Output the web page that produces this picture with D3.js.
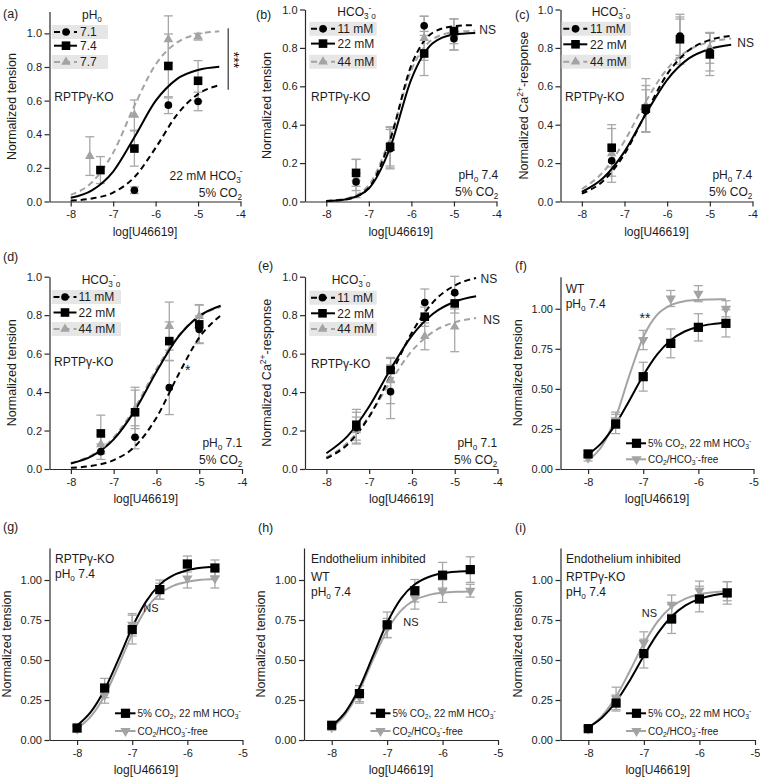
<!DOCTYPE html>
<html><head><meta charset="utf-8">
<script src="https://cdn.jsdelivr.net/npm/d3@7"></script>
<style>
body{margin:0;background:#fff}
text{font-family:"Liberation Sans",Arial,Helvetica,sans-serif}
</style>
</head><body>
<svg id="c" width="760" height="780"></svg>
<script>
// ---------------- DATA ----------------
const xTicksTop = [-8, -7, -6, -5, -4];
const xTicksBottom = [-8, -7, -6, -5];
const yTicksTop = [0, 0.2, 0.4, 0.6, 0.8, 1.0];
const yTicksBottom = [0, 0.25, 0.5, 0.75, 1.0];

const conc4 = [-7.3, -6.5, -5.7, -5.0];
const concA77 = [-7.55, -6.5, -5.7, -5.0];
const concA71 = [-6.5, -5.7, -5.0];
const conc6 = [-8, -7.5, -7, -6.5, -6, -5.5];
const fitX8 = [-8, -7.5, -7, -6.5, -6, -5.5, -5, -4.5];
const fitX11 = [-8, -7.75, -7.5, -7.25, -7, -6.75, -6.5, -6.25, -6, -5.75, -5.5];

// (a) pHo 7.1 / 7.4 / 7.7
const a71 = [0.067, 0.573, 0.595], a71Err = [0.02, 0.05, 0.055];
const a74 = [0.187, 0.315, 0.806, 0.718], a74Err = [0.08, 0.105, 0.19, 0.12];
const a77 = [0.27, 0.514, 0.964, 0.98], a77Err = [0.115, 0.09, 0.14, 0.02];
const fitA71 = [0.006, 0.018, 0.053, 0.145, 0.319, 0.515, 0.639, 0.692];
const fitA74 = [0.022, 0.066, 0.178, 0.382, 0.598, 0.728, 0.782, 0.801];
const fitA77 = [0.039, 0.114, 0.290, 0.569, 0.815, 0.945, 0.995, 1.012];
// (b) HCO3 11 / 22 / 44 mM, pHo 7.4, tension
const b11 = [0.102, 0.275, 0.915, 0.848], b11Err = [0.045, 0.1, 0.05, 0.06];
const b22 = [0.149, 0.285, 0.771, 0.887], b22Err = [0.07, 0.1, 0.115, 0.065];
const b44 = [0.12, 0.28, 0.85, 0.87], b44Err = [0.1, 0.11, 0.115, 0.08];
const fitB11 = [0.002, 0.012, 0.072, 0.321, 0.710, 0.879, 0.913, 0.919];
const fitB22 = [0.002, 0.013, 0.068, 0.280, 0.638, 0.824, 0.870, 0.878];
const fitB44 = [0.003, 0.017, 0.085, 0.332, 0.685, 0.845, 0.882, 0.889];
// (c) Ca response, pHo 7.4
const c11 = [0.212, 0.472, 0.861, 0.78], c11Err = [0.08, 0.11, 0.1, 0.1];
const c22 = [0.28, 0.484, 0.845, 0.766], c22Err = [0.1, 0.12, 0.13, 0.11];
const c44 = [0.25, 0.5, 0.85, 0.8], c44Err = [0.15, 0.14, 0.1, 0.08];
const fitC11 = [0.041, 0.107, 0.247, 0.460, 0.663, 0.786, 0.841, 0.863];
const fitC22 = [0.050, 0.122, 0.260, 0.456, 0.634, 0.744, 0.795, 0.817];
const fitC44 = [0.065, 0.154, 0.315, 0.521, 0.691, 0.788, 0.831, 0.849];
// (d) tension, pHo 7.1
const d11 = [0.09, 0.165, 0.423, 0.726], d11Err = [0.04, 0.06, 0.14, 0.07];
const d22 = [0.185, 0.295, 0.665, 0.752], d22Err = [0.095, 0.13, 0.1, 0.1];
const d44 = [0.128, 0.31, 0.743, 0.795], d44Err = [0.05, 0.1, 0.125, 0.06];
const fitD11 = [0.006, 0.017, 0.046, 0.118, 0.267, 0.485, 0.683, 0.798];
const fitD22 = [0.029, 0.068, 0.154, 0.306, 0.506, 0.684, 0.795, 0.849];
const fitD44 = [0.031, 0.074, 0.164, 0.321, 0.520, 0.690, 0.793, 0.843];
// (e) Ca response, pHo 7.1
const e11 = [0.215, 0.402, 0.866, 0.917], e11Err = [0.08, 0.14, 0.07, 0.085];
const e22 = [0.23, 0.515, 0.792, 0.861], e22Err = [0.08, 0.06, 0.05, 0.05];
const e44 = [0.2, 0.46, 0.69, 0.74], e44Err = [0.07, 0.12, 0.07, 0.13];
const fitE11 = [0.056, 0.129, 0.272, 0.487, 0.710, 0.869, 0.954, 0.993];
const fitE22 = [0.082, 0.172, 0.325, 0.519, 0.694, 0.809, 0.870, 0.898];
const fitE44 = [0.061, 0.138, 0.275, 0.455, 0.614, 0.714, 0.763, 0.785];
// (f) WT
const f22 = [0.094, 0.281, 0.576, 0.784, 0.884, 0.909], f22Err = [0.02, 0.06, 0.09, 0.09, 0.085, 0.085];
const fFree = [0.07, 0.305, 0.805, 1.064, 1.094, 1.0], fFreeErr = [0.02, 0.05, 0.06, 0.05, 0.05, 0.05];
const fitF22 = [0.091, 0.165, 0.280, 0.428, 0.584, 0.714, 0.804, 0.858, 0.888, 0.904, 0.912];
const fitFFree = [0.055, 0.142, 0.322, 0.585, 0.823, 0.962, 1.023, 1.047, 1.055, 1.058, 1.060];
// (g) RPTPg-KO
const g22 = [0.075, 0.325, 0.69, 0.94, 1.10, 1.075], g22Err = [0.02, 0.06, 0.09, 0.06, 0.05, 0.05];
const gFree = [0.07, 0.28, 0.72, 0.93, 1.01, 1.01], gFreeErr = [0.02, 0.05, 0.07, 0.05, 0.06, 0.06];
const fitG22 = [0.091, 0.176, 0.316, 0.504, 0.704, 0.865, 0.971, 1.030, 1.061, 1.076, 1.083];
const fitGFree = [0.071, 0.147, 0.278, 0.464, 0.662, 0.818, 0.914, 0.965, 0.989, 1.001, 1.006];
// (h) endothelium inhibited WT
const h22 = [0.092, 0.29, 0.72, 0.933, 1.03, 1.065], h22Err = [0.02, 0.05, 0.08, 0.07, 0.08, 0.08];
const hFree = [0.08, 0.27, 0.70, 0.888, 0.93, 0.933], hFreeErr = [0.02, 0.04, 0.06, 0.07, 0.07, 0.04];
const fitH22 = [0.087, 0.176, 0.327, 0.530, 0.733, 0.884, 0.973, 1.019, 1.042, 1.052, 1.056];
const fitHFree = [0.076, 0.162, 0.311, 0.505, 0.686, 0.809, 0.875, 0.906, 0.920, 0.926, 0.928];
// (i) endothelium inhibited RPTPg-KO
const i22 = [0.071, 0.231, 0.54, 0.756, 0.881, 0.919], i22Err = [0.01, 0.05, 0.09, 0.09, 0.08, 0.07];
const iFree = [0.07, 0.26, 0.606, 0.846, 0.933, 0.93], iFreeErr = [0.01, 0.07, 0.07, 0.06, 0.06, 0.06];
const fitI22 = [0.079, 0.141, 0.239, 0.374, 0.526, 0.666, 0.772, 0.841, 0.882, 0.905, 0.917];
const fitIFree = [0.078, 0.151, 0.271, 0.433, 0.603, 0.742, 0.833, 0.884, 0.910, 0.923, 0.929];

// ---------------- STYLE ----------------
const GRAY = '#a3a3a3';
const ERR = '#a8a8a8';
const TXT = '#1c1c1c';
const styles = {
  bkDashCirc: {color: '#000', dash: '6,4', marker: 'circle'},
  bkSolidSq: {color: '#000', dash: null, marker: 'square'},
  grDashTri: {color: GRAY, dash: '6,4', marker: 'triangle'},
  grSolidDown: {color: GRAY, dash: null, marker: 'down'}
};

const svg = d3.select('#c');

function rich(t, parts, fs) {
  let cur = 0;
  parts.forEach(p => {
    const [s, k, dx] = p;
    const target = k === 'sub' ? 0.25 * fs : k === 'sup' ? -0.42 * fs : 0;
    const ts = t.append('tspan').attr('dy', (target - cur).toFixed(2)).text(s);
    if (k) ts.attr('font-size', (fs * 0.68).toFixed(1));
    if (dx) ts.attr('dx', dx);
    cur = target;
  });
}
function label(x, y, parts, fs = 12, anchor = 'start', color = TXT) {
  const t = svg.append('text').attr('x', x).attr('y', y).attr('font-size', fs)
    .attr('text-anchor', anchor).attr('fill', color);
  if (typeof parts === 'string') t.text(parts); else rich(t, parts, fs);
  return t;
}
function markerPath(type, big) {
  const k = big ? 1.15 : 1;
  if (type === 'circle') return d3.symbol(d3.symbolCircle, 46 * k)();
  if (type === 'square') return d3.symbol(d3.symbolSquare, 74 * k)();
  return d3.symbol(d3.symbolTriangle, 40 * k)();
}
function drawMarker(g, type, cx, cy, color, big) {
  g.append('path').attr('d', markerPath(type, big))
    .attr('transform', `translate(${cx},${cy})` + (type === 'down' ? ' rotate(180)' : ''))
    .attr('fill', color);
}

const HCO3o = [['HCO', ''], ['3', 'sub'], ['-', 'sup'], ['o', 'sub']];
const tensionTitle = [['Normalized tension', '']];
const caTitle = [['Normalized Ca', ''], ['2+', 'sup'], ['-response', '']];
const lgBottom1 = [['5% CO', ''], ['2', 'sub'], [', 22 mM HCO', ''], ['3', 'sub'], ['-', 'sup']];
const lgBottom2 = [['CO', ''], ['2', 'sub'], ['/HCO', ''], ['3', 'sub'], ['-', 'sup'], ['-free', '']];

function drawPanel(p) {
  const x = d3.scaleLinear().domain(p.xDomain).range([p.left, p.right]);
  const y = d3.scaleLinear().domain(p.yDomain).range([p.bottom, p.top]);
  const g = svg.append('g');
  const ax = g.append('g').attr('transform', `translate(0,${p.bottom})`)
    .call(d3.axisBottom(x).tickValues(p.xTicks).tickFormat(d => String(d))
      .tickSize(5).tickPadding(4).tickSizeOuter(0));
  const ay = g.append('g').attr('transform', `translate(${p.left},0)`)
    .call(d3.axisLeft(y).tickValues(p.yTicks).tickFormat(d3.format(p.yFmt))
      .tickSize(5).tickPadding(2.5).tickSizeOuter(0));
  [ax, ay].forEach(a => {
    a.selectAll('text').attr('font-size', 11).attr('fill', TXT)
      .attr('font-family', '"Liberation Sans",Arial,sans-serif');
    a.selectAll('path,line').attr('stroke', '#2a2a2a').attr('stroke-width', 1.2);
  });
  // axis titles
  label((p.left + p.right) / 2, p.bottom + 34, 'log[U46619]', 12, 'middle');
  const yt = svg.append('text').attr('font-size', 12.5).attr('text-anchor', 'middle').attr('fill', TXT)
    .attr('transform', `translate(${p.left - p.yTitleOff},${(p.top + p.bottom) / 2}) rotate(-90)`)
    .attr('dy', '0.35em');
  rich(yt, p.yTitle, 12.5);
  label(p.labelPos[0], p.labelPos[1], p.label, 12.5);

  // legend backgrounds
  if (p.legend && p.legend.type === 'top') {
    const L = p.legend;
    L.rows.forEach(r => {
      if (r.shaded) g.append('rect').attr('x', L.box[0]).attr('width', L.box[1] - L.box[0])
        .attr('y', r.y - 7).attr('height', 14).attr('fill', '#e6e6e6');
    });
  }
  const big = p.bigMarkers;
  // error bars
  p.series.forEach(s => {
    s.x.forEach((xv, i) => {
      const e = s.err[i];
      const y1 = y(Math.max(0, s.y[i] - e)), y2 = y(s.y[i] + e), cx = x(xv);
      g.append('line').attr('x1', cx).attr('x2', cx).attr('y1', y1).attr('y2', y2)
        .attr('stroke', ERR).attr('stroke-width', 1.3);
      [y1, y2].forEach(yy => g.append('line').attr('x1', cx - 4.5).attr('x2', cx + 4.5)
        .attr('y1', yy).attr('y2', yy).attr('stroke', ERR).attr('stroke-width', 1.3));
    });
  });
  // fit curves
  const line = d3.line().x(d => x(d[0])).y(d => y(d[1])).curve(d3.curveMonotoneX);
  p.curveOrder.forEach(k => {
    const s = p.series[k], st = styles[s.style];
    g.append('path').attr('d', line(d3.zip(s.fitX, s.fit))).attr('fill', 'none')
      .attr('stroke', st.color).attr('stroke-width', 2)
      .attr('stroke-dasharray', st.dash);
  });
  // markers
  p.markerOrder.forEach(k => {
    const s = p.series[k], st = styles[s.style];
    s.x.forEach((xv, i) => drawMarker(g, st.marker, x(xv), y(s.y[i]), st.color, big));
  });

  // legend
  if (p.legend) {
    const L = p.legend;
    if (L.type === 'top') {
      label(L.titleX, L.titleY, L.title, 12);
      L.rows.forEach(r => {
        const st = styles[r.style];
        g.append('line').attr('x1', L.line[0]).attr('x2', L.line[1]).attr('y1', r.y).attr('y2', r.y)
          .attr('stroke', st.color).attr('stroke-width', 2).attr('stroke-dasharray', st.dash);
        drawMarker(g, st.marker, L.marker, r.y, st.color, false);
        label(L.text, r.y + 4.3, r.label, 12);
      });
    } else {
      L.rows.forEach(r => {
        const st = styles[r.style];
        g.append('line').attr('x1', L.line[0]).attr('x2', L.line[1]).attr('y1', r.y).attr('y2', r.y)
          .attr('stroke', st.color).attr('stroke-width', 2);
        drawMarker(g, st.marker, L.marker, r.y, st.color, true);
        label(L.text, r.y + 3.5, r.label, 10);
      });
    }
  }
  return {x, y, g};
}

function ser(xs, ys, err, fit, fitX, style) { return {x: xs, y: ys, err, fit, fitX, style}; }

const topLegendRows = (y1, y2, y3, l1, l2, l3) => [
  {y: y1, label: l1, style: 'bkDashCirc', shaded: true},
  {y: y2, label: l2, style: 'bkSolidSq'},
  {y: y3, label: l3, style: 'grDashTri', shaded: true}];
const bottomLegend = (ln, mk, tx, y1, y2) => ({type: 'bottom', line: ln, marker: mk, text: tx,
  rows: [{y: y1, label: lgBottom1, style: 'bkSolidSq'}, {y: y2, label: lgBottom2, style: 'grSolidDown'}]});

const topCommon = {xDomain: [-8.5, -4], xTicks: xTicksTop, yFmt: '.1f', yTicks: yTicksTop,
  curveOrder: [2, 1, 0], markerOrder: [2, 0, 1], yTitleOff: 34};
const botCommon = {xDomain: [-8.5, -5], xTicks: xTicksBottom, yFmt: '.2f', yTicks: yTicksBottom,
  yDomain: [0, 1.2], curveOrder: [1, 0], markerOrder: [1, 0], yTitleOff: 39, bigMarkers: true};

// (a)
const pa = drawPanel(Object.assign({}, topCommon, {
  left: 49.5, right: 240.5, bottom: 201.5, top: 11.5, yDomain: [0, 1.13],
  yTitle: tensionTitle, label: '(a)', labelPos: [3, 18],
  series: [ser(concA71, a71, a71Err, fitA71, fitX8, 'bkDashCirc'),
           ser(conc4, a74, a74Err, fitA74, fitX8, 'bkSolidSq'),
           ser(concA77, a77, a77Err, fitA77, fitX8, 'grDashTri')],
  legend: {type: 'top', title: [['pH', ''], ['o', 'sub']], titleX: 82, titleY: 19,
    box: [51.7, 108], line: [54, 77], marker: 66, text: 80,
    rows: topLegendRows(32, 45.7, 62, '7.1', '7.4', '7.7')}
}));
// (b)
drawPanel(Object.assign({}, topCommon, {
  left: 305, right: 496.5, bottom: 201.5, top: 9.5, yDomain: [0, 1],
  yTitle: tensionTitle, label: '(b)', labelPos: [256, 18.5],
  series: [ser(conc4, b11, b11Err, fitB11, fitX8, 'bkDashCirc'),
           ser(conc4, b22, b22Err, fitB22, fitX8, 'bkSolidSq'),
           ser(conc4, b44, b44Err, fitB44, fitX8, 'grDashTri')],
  legend: {type: 'top', title: HCO3o, titleX: 337.3, titleY: 16.3,
    box: [309.3, 376.7], line: [311, 335], marker: 323, text: 337.5,
    rows: topLegendRows(28.8, 43.6, 61.7, '11 mM', '22 mM', '44 mM')}
}));
// (c)
drawPanel(Object.assign({}, topCommon, {
  left: 560.5, right: 752.5, bottom: 201.5, top: 9.5, yDomain: [0, 1], yTitleOff: 32.5,
  yTitle: caTitle, label: '(c)', labelPos: [515, 18.5],
  series: [ser(conc4, c11, c11Err, fitC11, fitX8, 'bkDashCirc'),
           ser(conc4, c22, c22Err, fitC22, fitX8, 'bkSolidSq'),
           ser(conc4, c44, c44Err, fitC44, fitX8, 'grDashTri')],
  legend: {type: 'top', title: HCO3o, titleX: 591.7, titleY: 16.3,
    box: [561.7, 631], line: [563.3, 587.3], marker: 575.5, text: 590,
    rows: topLegendRows(28.8, 44.3, 61.7, '11 mM', '22 mM', '44 mM')}
}));
// (d)
drawPanel(Object.assign({}, topCommon, {
  left: 49.5, right: 242, bottom: 469, top: 276.7, yDomain: [0, 1],
  yTitle: tensionTitle, label: '(d)', labelPos: [3, 261],
  series: [ser(conc4, d11, d11Err, fitD11, fitX8, 'bkDashCirc'),
           ser(conc4, d22, d22Err, fitD22, fitX8, 'bkSolidSq'),
           ser(conc4, d44, d44Err, fitD44, fitX8, 'grDashTri')],
  legend: {type: 'top', title: HCO3o, titleX: 81.7, titleY: 283.5,
    box: [51.7, 121], line: [53.5, 76.5], marker: 65, text: 78.5,
    rows: topLegendRows(297, 312.5, 329, '11 mM', '22 mM', '44 mM')}
}));
// (e)
drawPanel(Object.assign({}, topCommon, {
  left: 305, right: 497.5, bottom: 469, top: 276.7, yDomain: [0, 1],
  yTitle: caTitle, label: '(e)', labelPos: [258, 269.5],
  series: [ser(conc4, e11, e11Err, fitE11, fitX8, 'bkDashCirc'),
           ser(conc4, e22, e22Err, fitE22, fitX8, 'bkSolidSq'),
           ser(conc4, e44, e44Err, fitE44, fitX8, 'grDashTri')],
  legend: {type: 'top', title: HCO3o, titleX: 331.7, titleY: 283.5,
    box: [309.3, 376.7], line: [311, 335], marker: 322.5, text: 337.3,
    rows: topLegendRows(297.7, 313.3, 329, '11 mM', '22 mM', '44 mM')}
}));
// (f)
drawPanel(Object.assign({}, botCommon, {
  left: 560.5, right: 753.5, bottom: 469, top: 276.7,
  yTitle: tensionTitle, label: '(f)', labelPos: [515, 269.5],
  series: [ser(conc6, f22, f22Err, fitF22, fitX11, 'bkSolidSq'),
           ser(conc6, fFree, fFreeErr, fitFFree, fitX11, 'grSolidDown')],
  legend: bottomLegend([626, 646], 636.5, 648, 443.3, 459.3)
}));
// (g)
drawPanel(Object.assign({}, botCommon, {
  left: 49.5, right: 242.5, bottom: 740, top: 548,
  yTitle: tensionTitle, label: '(g)', labelPos: [3, 531],
  series: [ser(conc6, g22, g22Err, fitG22, fitX11, 'bkSolidSq'),
           ser(conc6, gFree, gFreeErr, fitGFree, fitX11, 'grSolidDown')],
  legend: bottomLegend([115, 135.5], 125.5, 137.5, 713.3, 731)
}));
// (h)
drawPanel(Object.assign({}, botCommon, {
  left: 304, right: 498, bottom: 740, top: 548,
  yTitle: tensionTitle, label: '(h)', labelPos: [258, 532],
  series: [ser(conc6, h22, h22Err, fitH22, fitX11, 'bkSolidSq'),
           ser(conc6, hFree, hFreeErr, fitHFree, fitX11, 'grSolidDown')],
  legend: bottomLegend([370.5, 390.5], 380.5, 392.5, 713.3, 731)
}));
// (i)
drawPanel(Object.assign({}, botCommon, {
  left: 560.5, right: 755, bottom: 740, top: 548,
  yTitle: tensionTitle, label: '(i)', labelPos: [515, 532],
  series: [ser(conc6, i22, i22Err, fitI22, fitX11, 'bkSolidSq'),
           ser(conc6, iFree, iFreeErr, fitIFree, fitX11, 'grSolidDown')],
  legend: bottomLegend([626, 646], 636.5, 648, 713.3, 731)
}));

// ---------------- ANNOTATIONS ----------------
const KO = 'RPTPγ-KO';
const pH = v => [['pH', ''], ['o', 'sub'], [' ' + v, '']];
const CO2 = [['5% CO', ''], ['2', 'sub']];
// (a)
label(54.3, 101.3, KO);
label(242.5, 179.5, [['22 mM HCO', ''], ['3', 'sub'], ['-', 'sup', -1]], 12, 'end');
label(242, 196.5, CO2, 12, 'end');
svg.append('line').attr('x1', pa.x(-4.29)).attr('x2', pa.x(-4.29))
  .attr('y1', pa.y(1.03)).attr('y2', pa.y(0.665)).attr('stroke', '#333').attr('stroke-width', 1.2);
svg.append('text').attr('font-size', 14).attr('text-anchor', 'middle').attr('fill', '#111')
  .attr('transform', 'translate(229,60) rotate(90)').text('***');
// (b)
label(311, 101, KO);
label(498.3, 178.5, pH('7.4'), 12, 'end');
label(498.3, 196, CO2, 12, 'end');
label(479.3, 34.3, 'NS');
// (c)
label(565, 101, KO);
label(752.3, 178.5, pH('7.4'), 12, 'end');
label(752.3, 196, CO2, 12, 'end');
label(737.3, 47.3, 'NS');
// (d)
label(54, 366, KO);
label(242.3, 447, pH('7.1'), 12, 'end');
label(242.3, 464.3, CO2, 12, 'end');
label(187.7, 375, '*', 14, 'middle');
// (e)
label(311, 367.6, KO);
label(497.3, 447, pH('7.1'), 12, 'end');
label(497.3, 464.3, CO2, 12, 'end');
label(480.5, 282.6, 'NS');
label(483.3, 324.3, 'NS');
// (f)
label(565.7, 293.3, 'WT');
label(565.7, 307.6, pH('7.4'));
label(645, 323, '**', 14, 'middle');
// (g)
label(55, 562.6, KO);
label(55, 577.6, pH('7.4'));
label(143.3, 612.3, 'NS', 11);
// (h)
label(311, 562.6, 'Endothelium inhibited');
label(311, 581, 'WT');
label(311, 596, pH('7.4'));
label(403.3, 625.7, 'NS', 11);
// (i)
label(566, 562.6, 'Endothelium inhibited');
label(566, 581, KO);
label(566, 596, pH('7.4'));
label(641.7, 616.7, 'NS', 11);
</script>
</body></html>
